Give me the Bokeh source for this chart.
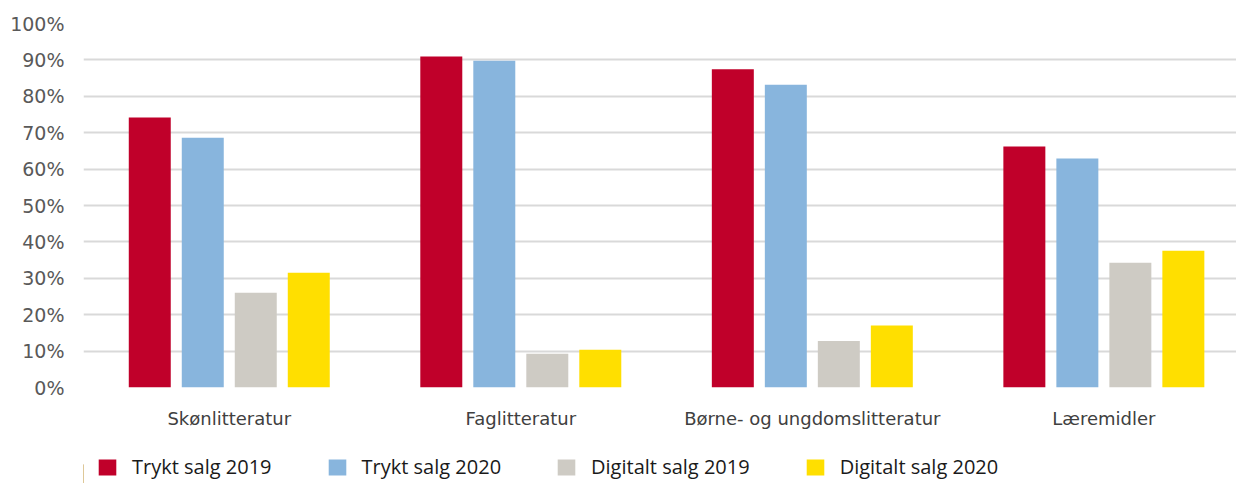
from bokeh.plotting import figure
from bokeh.layouts import column
from bokeh.models import Range1d, FixedTicker, Legend, LegendItem, ColumnDataSource, NumeralTickFormatter
from bokeh.embed import file_html
from bokeh.resources import INLINE

categories = ["Skønlitteratur", "Faglitteratur", "Børne- og ungdomslitteratur", "Læremidler"]
series = ["Trykt salg 2019", "Trykt salg 2020", "Digitalt salg 2019", "Digitalt salg 2020"]
trykt_2019 = [0.742, 0.909, 0.874, 0.662]
trykt_2020 = [0.686, 0.898, 0.832, 0.629]
digitalt_2019 = [0.260, 0.093, 0.128, 0.343]
digitalt_2020 = [0.315, 0.104, 0.170, 0.376]
colors = ["#C0002A", "#88B5DD", "#CECBC4", "#FFDF00"]
y_ticks = [0, 0.1, 0.2, 0.3, 0.4, 0.5, 0.6, 0.7, 0.8, 0.9, 1.0]

values = [trykt_2019, trykt_2020, digitalt_2019, digitalt_2020]
offsets = [-0.2727, -0.0909, 0.0909, 0.2727]
centers = [i + 0.5 for i in range(len(categories))]

FONT = "DejaVu Sans"

p = figure(width=1236, height=445, output_backend="svg", toolbar_location=None,
           x_range=Range1d(0, 3.955), y_range=Range1d(0, 1.0),
           min_border_left=83, min_border_right=0, min_border_top=23, min_border_bottom=58)
p.outline_line_color = None
p.xgrid.grid_line_color = None
p.ygrid.grid_line_color = "#d9d9d9"
p.ygrid.grid_line_width = 2
p.ygrid.ticker = FixedTicker(ticks=y_ticks)

for vals, off, c in zip(values, offsets, colors):
    src = ColumnDataSource(dict(x=[cx + off for cx in centers], top=vals))
    p.vbar(x="x", top="top", width=0.144, bottom=0, source=src, fill_color=c, line_color=None)

p.yaxis.ticker = FixedTicker(ticks=y_ticks)
p.yaxis.formatter = NumeralTickFormatter(format="0%")
p.yaxis.axis_line_color = None
p.yaxis.major_tick_line_color = None
p.yaxis.minor_tick_line_color = None
p.yaxis.major_label_text_font = FONT
p.yaxis.major_label_text_font_size = "19px"
p.yaxis.major_label_text_color = "#595959"
p.yaxis.major_label_standoff = 13

p.xaxis.ticker = FixedTicker(ticks=centers)
p.xaxis.major_label_overrides = {c: lab for c, lab in zip(centers, categories)}
p.xaxis.axis_line_color = None
p.xaxis.major_tick_line_color = None
p.xaxis.minor_tick_line_color = None
p.xaxis.major_label_text_font = FONT
p.xaxis.major_label_text_font_size = "18px"
p.xaxis.major_label_text_color = "#404040"
p.xaxis.major_label_standoff = 14

# legend strip (its frame is aligned with the main frame by the column layout)
lg = figure(width=1236, height=38, output_backend="svg", toolbar_location=None,
            x_range=Range1d(0, 1), y_range=Range1d(0, 1),
            min_border_left=0, min_border_right=0, min_border_top=0, min_border_bottom=0)
lg.axis.visible = False
lg.grid.visible = False
lg.outline_line_color = None
items = []
for s, c in zip(series, colors):
    r = lg.vbar(x=[-5], top=[0.5], width=0.1, fill_color=c, line_color=None)
    items.append(LegendItem(label=s, renderers=[r]))
legend = Legend(items=items, orientation="horizontal", location=(13, 3),
                glyph_width=22, glyph_height=20, label_standoff=14, spacing=54,
                padding=0, margin=0, border_line_color=None, background_fill_alpha=0,
                label_text_font="Open Sans", label_text_font_size="20px", label_text_color="#1a1a1a")
lg.add_layout(legend, "center")

layout = column(p, lg, spacing=0)
open("out.html", "w").write(file_html(layout, INLINE))
